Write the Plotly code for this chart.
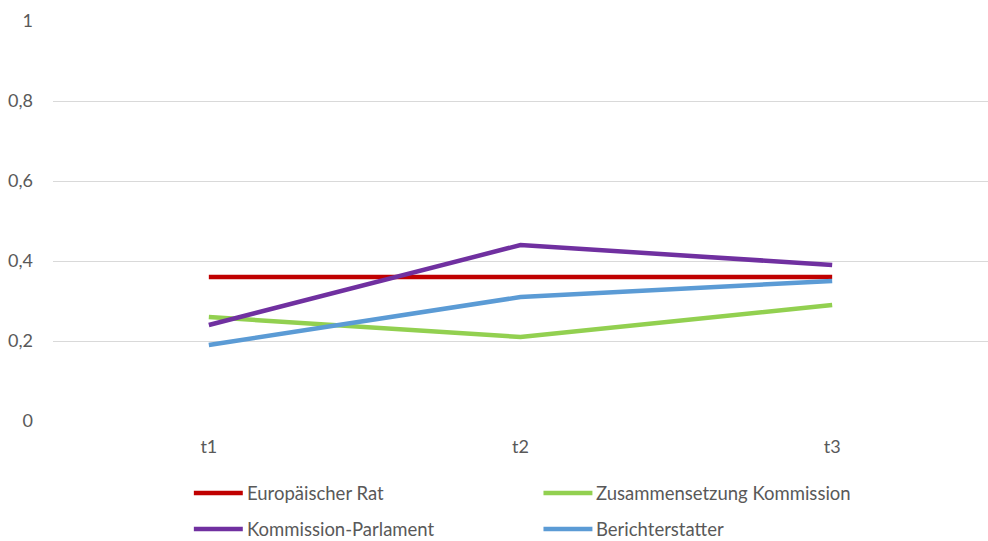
import plotly.graph_objects as go

categories = ["t1", "t2", "t3"]

europaeischer_rat = [0.36, 0.36, 0.36]
zusammensetzung_kommission = [0.26, 0.21, 0.29]
kommission_parlament = [0.24, 0.44, 0.39]
berichterstatter = [0.19, 0.31, 0.35]

y_ticks = [0, 0.2, 0.4, 0.6, 0.8, 1]
y_tick_labels = ["0", "0,2", "0,4", "0,6", "0,8", "1"]

series_names = ["Europäischer Rat", "Zusammensetzung Kommission",
                "Kommission-Parlament", "Berichterstatter"]
series_values = [europaeischer_rat, zusammensetzung_kommission,
                 kommission_parlament, berichterstatter]
series_colors = ["#C00000", "#92D050", "#7030A0", "#5B9BD5"]

TEXT_COLOR = "#595959"
FONT_FAMILY = "Lato, Open Sans, sans-serif"

fig = go.Figure()
for name, values, color in zip(series_names, series_values, series_colors):
    fig.add_trace(go.Scatter(
        x=categories, y=values, name=name, mode="lines",
        line=dict(color=color, width=4.5),
    ))

# Two-by-two legend below the plot, built from line shapes and text labels
plot_left, plot_width = 53, 936
plot_bottom, plot_height = 421, 400


def px_x(px):
    return (px - plot_left) / plot_width


def px_y(py):
    return (plot_bottom - py) / plot_height


legend_cols = [194, 544]
legend_rows = [493, 529]
for i, (name, color) in enumerate(zip(series_names, series_colors)):
    lx = legend_cols[i % 2]
    ly = legend_rows[i // 2]
    fig.add_shape(
        type="line", xref="paper", yref="paper",
        x0=px_x(lx), x1=px_x(lx + 49), y0=px_y(ly), y1=px_y(ly),
        line=dict(color=color, width=4.5),
    )
    fig.add_annotation(
        text=name, xref="paper", yref="paper",
        x=px_x(lx + 52), y=px_y(ly), xanchor="left", yanchor="middle",
        showarrow=False, borderpad=0,
        font=dict(family=FONT_FAMILY, size=18.5, color=TEXT_COLOR),
    )

tick_font = dict(family=FONT_FAMILY, size=18, color=TEXT_COLOR)

fig.update_layout(
    width=988, height=541,
    margin=dict(l=53, r=0, t=21, b=120, autoexpand=False),
    paper_bgcolor="white", plot_bgcolor="white",
    font=dict(family=FONT_FAMILY, color=TEXT_COLOR),
    showlegend=False,
    xaxis=dict(
        type="category", range=[-0.5, 2.5],
        showgrid=False, zeroline=False, showline=False,
        ticks="", ticklabelstandoff=13,
        tickfont=tick_font,
    ),
    yaxis=dict(
        range=[0, 1], tickvals=y_ticks, ticktext=y_tick_labels,
        showgrid=True, gridcolor="#D9D9D9", gridwidth=1,
        zeroline=False, showline=False, ticks="",
        ticklabelstandoff=19, tickfont=tick_font,
    ),
)

fig.write_html("out.html")
